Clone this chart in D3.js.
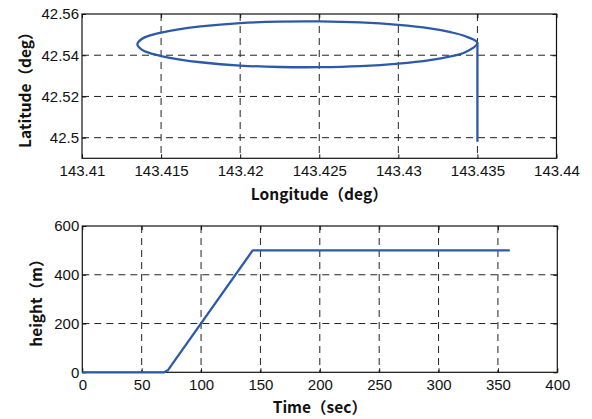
<!DOCTYPE html>
<html>
<head>
<meta charset="utf-8">
<script src="https://cdn.jsdelivr.net/npm/d3@7"></script>
<style>
  body { margin: 0; background: #fff; }
  svg text { fill: #111; }
  .grid line { stroke: #222; stroke-width: 1; stroke-dasharray: 7,5; }
  .title { font-family: "Noto Sans CJK JP", sans-serif; font-weight: bold; font-size: 15.5px; }
  .tick text { font-family: "Liberation Sans", Arial, sans-serif; font-size: 15px; }
</style>
</head>
<body>
<div id="chart"></div>
<script>
// flight track (lon / lat): climb, then one loop
var trackLon = [143.435, 143.435, 143.435,
  143.4342, 143.4333, 143.4320, 143.4300, 143.4276, 143.4250, 143.4225, 143.4200, 143.4175, 143.4162, 143.4150, 143.4143, 143.4138,
  143.4135,
  143.4138, 143.4143, 143.4150, 143.4162, 143.4175, 143.4200, 143.4225, 143.4250, 143.4276, 143.4300, 143.4320, 143.4333, 143.4342,
  143.435];
var trackLat = [42.498, 42.522, 42.5460,
  42.5493, 42.5512, 42.5530, 42.5547, 42.5559, 42.5564, 42.5563, 42.5556, 42.5540, 42.5527, 42.5510, 42.5496, 42.5480,
  42.5453,
  42.5426, 42.5410, 42.5396, 42.5379, 42.5366, 42.5350, 42.5343, 42.5342, 42.5347, 42.5359, 42.5376, 42.5394, 42.5413,
  42.5460];
var climbEnd = 2; // index where the loop starts (and ends)

// height over time
var timeSec = [0, 69, 72, 143.5, 360];
var heightM = [0, 0, 8, 500, 500];

var lonTicks = [143.41, 143.415, 143.42, 143.425, 143.43, 143.435, 143.44];
var latTicks = [42.5, 42.52, 42.54, 42.56];
var timeTicks = [0, 50, 100, 150, 200, 250, 300, 350, 400];
var heightTicks = [0, 200, 400, 600];

var width = 592, height = 419;
var lineColor = "#2c5aa8";

var svg = d3.select("#chart").append("svg")
  .attr("width", width).attr("height", height);

function drawPanel(opt) {
  var g = svg.append("g");
  var x = d3.scaleLinear().domain(opt.xDomain).range([opt.left, opt.right]);
  var y = d3.scaleLinear().domain(opt.yDomain).range([opt.bottom, opt.top]);

  // dashed grid
  var grid = g.append("g").attr("class", "grid");
  grid.selectAll("line.gx")
    .data(opt.xTicks.filter(d => d > opt.xDomain[0] && d < opt.xDomain[1]))
    .enter().append("line")
    .attr("x1", d => x(d)).attr("x2", d => x(d))
    .attr("y1", opt.top).attr("y2", opt.bottom);
  grid.selectAll("line.gy")
    .data(opt.yTicks.filter(d => d > opt.yDomain[0] && d < opt.yDomain[1]))
    .enter().append("line")
    .attr("y1", d => y(d)).attr("y2", d => y(d))
    .attr("x1", opt.left).attr("x2", opt.right);

  // axes with inward ticks
  g.append("g").attr("transform", "translate(0," + opt.bottom + ")")
    .call(d3.axisBottom(x).tickValues(opt.xTicks).tickFormat(d => d).tickSizeInner(-4).tickSizeOuter(0).tickPadding(7))
    .call(a => a.select(".domain").remove());
  g.append("g").attr("transform", "translate(0," + opt.top + ")")
    .call(d3.axisTop(x).tickValues(opt.xTicks).tickFormat("").tickSizeInner(-4).tickSizeOuter(0))
    .call(a => a.select(".domain").remove());
  g.append("g").attr("transform", "translate(" + opt.left + ",0)")
    .call(d3.axisLeft(y).tickValues(opt.yTicks).tickFormat(d => d).tickSizeInner(-4).tickSizeOuter(0).tickPadding(3))
    .call(a => a.select(".domain").remove());
  g.append("g").attr("transform", "translate(" + opt.right + ",0)")
    .call(d3.axisRight(y).tickValues(opt.yTicks).tickFormat("").tickSizeInner(-4).tickSizeOuter(0))
    .call(a => a.select(".domain").remove());
  g.selectAll(".tick line").attr("stroke", "#111");
  g.selectAll(".tick text").attr("fill", "#111").attr("font-family", null).attr("font-size", null);

  // frame
  g.append("rect")
    .attr("x", opt.left).attr("y", opt.top)
    .attr("width", opt.right - opt.left).attr("height", opt.bottom - opt.top)
    .attr("fill", "none").attr("stroke", "#111").attr("stroke-width", 1.2);

  // data lines
  opt.series.forEach(s => {
    var pts = s.xs.map((v, i) => [v, s.ys[i]]);
    g.append("path")
      .datum(pts)
      .attr("fill", "none")
      .attr("stroke", lineColor)
      .attr("stroke-width", 2.3)
      .attr("stroke-linejoin", "round")
      .attr("d", d3.line().x(d => x(d[0])).y(d => y(d[1])).curve(s.curve || d3.curveLinear));
  });

  // titles
  g.append("text").attr("class", "title")
    .attr("x", (opt.left + opt.right) / 2).attr("y", opt.xTitleY)
    .attr("text-anchor", "middle").text(opt.xTitle);
  g.append("text").attr("class", "title")
    .attr("transform", "translate(" + opt.yTitleX + "," + (opt.top + opt.bottom) / 2 + ")rotate(-90)")
    .attr("text-anchor", "middle").text(opt.yTitle);
}

drawPanel({
  left: 82, right: 556.5, top: 14, bottom: 158.3,
  xDomain: [143.41, 143.44], yDomain: [42.49, 42.56],
  xTicks: lonTicks, yTicks: latTicks,
  series: [
    { xs: trackLon.slice(0, climbEnd + 1), ys: trackLat.slice(0, climbEnd + 1) },
    // loop: last point repeats the loop start, so leave it out of the closed curve
    { xs: trackLon.slice(climbEnd, -1), ys: trackLat.slice(climbEnd, -1), curve: d3.curveCatmullRomClosed }
  ],
  xTitle: "Longitude（deg）", xTitleY: 200,
  yTitle: "Latitude（deg）", yTitleX: 31
});

drawPanel({
  left: 82.3, right: 557.3, top: 226, bottom: 372.3,
  xDomain: [0, 400], yDomain: [0, 600],
  xTicks: timeTicks, yTicks: heightTicks,
  series: [{ xs: timeSec, ys: heightM }],
  xTitle: "Time（sec）", xTitleY: 413,
  yTitle: "height（m）", yTitleX: 42
});
</script>
</body>
</html>
